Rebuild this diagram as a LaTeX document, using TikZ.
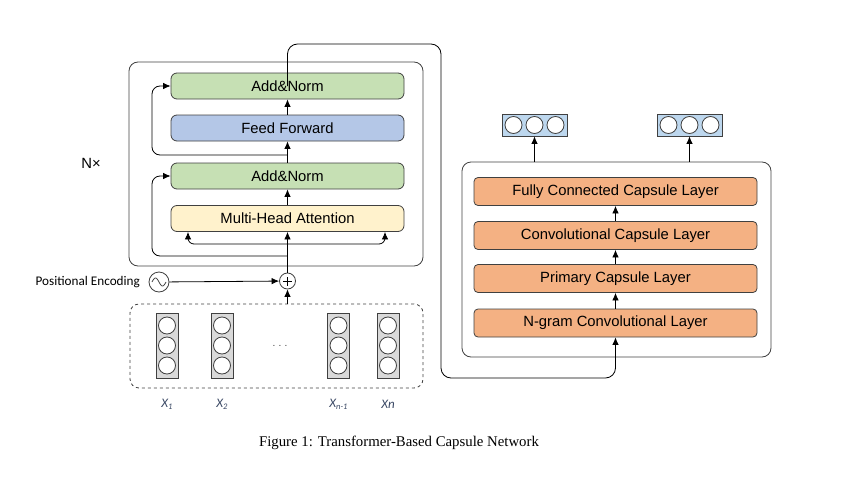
\documentclass[tikz,border=0pt]{standalone}
\usepackage{fontspec}
\setsansfont{Liberation Sans}
\newfontfamily\calfont{Carlito}
\newfontfamily\capfont{Liberation Serif}
\usetikzlibrary{positioning,arrows.meta}

\definecolor{normgreen}{RGB}{198,224,180}
\definecolor{ffblue}{RGB}{180,199,231}
\definecolor{mhayellow}{RGB}{255,242,204}
\definecolor{capsorange}{RGB}{244,177,131}
\definecolor{outblue}{RGB}{189,215,238}
\definecolor{vecgray}{RGB}{217,217,217}
\definecolor{edgegray}{RGB}{64,64,64}
\definecolor{labelblue}{RGB}{58,72,100}

\begin{document}
\begin{tikzpicture}[x=1pt, y=-1pt, line width=0.8pt, >={Latex[length=7.5pt,width=6.5pt]},
    font=\sffamily\fontsize{14.8}{17}\selectfont,
    layer/.style = {draw=edgegray, rounded corners=6pt, minimum width=233pt, minimum height=26pt, inner sep=0pt},
    caps/.style = {draw=edgegray, fill=capsorange, rounded corners=4pt, minimum width=283pt, minimum height=28pt, inner sep=0pt},
    frame/.style = {draw=edgegray, rounded corners=9pt, inner sep=0pt},
    unit/.style = {draw=edgegray, fill=white, circle, minimum size=17pt, inner sep=0pt},
    invec/.style = {draw=edgegray, fill=vecgray, minimum width=22pt, minimum height=65pt, inner sep=0pt},
    outvec/.style = {draw=edgegray, fill=outblue, minimum width=65pt, minimum height=22pt, inner sep=0pt},
    xlabel/.style = {font=\calfont\itshape\fontsize{13}{15}\selectfont, text=labelblue}]
    \useasboundingbox (0,0) rectangle (852,479);

    % transformer encoder
    \node[frame, minimum width=294pt, minimum height=204pt] (enc) at (276,164) {};
    \node at (91,163) {N\texttimes};
    \node[layer, fill=normgreen] (an1) at (287.5,86) {Add\&Norm};
    \node[layer, fill=ffblue] (ff) at (287.5,128) {Feed Forward};
    \node[layer, fill=normgreen] (an2) at (287.5,176) {Add\&Norm};
    \node[layer, fill=mhayellow] (mha) at (287.5,218.5) {Multi-Head Attention};

    % input embedding
    \node[frame, dashed, minimum width=293pt, minimum height=84pt] (inbox) at (276.5,346) {};
    \foreach \name/\xpos/\lbl in {v1/167/{X\raisebox{-2pt}{\fontsize{8.5}{9}\selectfont 1}},
                                  v2/222/{X\raisebox{-2pt}{\fontsize{8.5}{9}\selectfont 2}},
                                  vm/338.5/{X\raisebox{-2pt}{\fontsize{8.5}{9}\selectfont n-1}},
                                  vn/388/{Xn}} {
        \node[invec] (\name) at (\xpos,345.5) {};
        \node[unit] at (\xpos,325.5) {};
        \node[unit] at (\xpos,345.5) {};
        \node[unit] at (\xpos,365.5) {};
        \node[xlabel] at (\xpos,404) {\lbl};
    }
    \node[text=edgegray] (dots) at (280,346) {\fontsize{10}{10}\selectfont .\,\,.\,\,.};

    % positional encoding
    \node[circle, draw=edgegray, minimum size=20pt, inner sep=0pt] (pe) at (159,282) {};
    \draw[edgegray] plot[domain=-7:7, smooth, samples=25] ({159+\x}, {282+4*sin(\x*180/7)});
    \node[left=5pt of pe, font=\calfont\fontsize{13.2}{15}\selectfont] (pelabel) {Positional Encoding};
    \node[circle, draw=edgegray, fill=white, minimum size=16pt, inner sep=0pt] (plus) at (287.5,281) {};
    \draw ([xshift=-4.5pt]plus.center) -- ([xshift=4.5pt]plus.center)
          ([yshift=-4.5pt]plus.center) -- ([yshift=4.5pt]plus.center);

    \draw[->] (pe) -- (plus);
    \draw[->] (inbox.north -| plus) -- (plus);
    \draw[->] (plus) -- (mha);
    \draw[->] (mha) -- (an2);
    \draw[->] (an2) -- (ff);
    \draw[->] (ff) -- (an1);

    % residual paths
    \coordinate (r1) at (287.5,155);
    \coordinate (r2) at (287.5,256);
    \coordinate (r3) at (287.5,244);
    \draw[->, rounded corners=8pt] (r1) -- ++(-135.5,0) |- (an1.west);
    \draw[->, rounded corners=8pt] (r2) -- ++(-135.5,0) |- (an2.west);
    \draw[->, rounded corners=6pt] (r3) -| ([xshift=-99.5pt]mha.south);
    \draw[->, rounded corners=6pt] (r3) -| ([xshift=97.5pt]mha.south);

    % capsule network
    \node[frame, minimum width=309pt, minimum height=195pt] (capbox) at (616.5,259.5) {};
    \node[caps] (fc) at (615.5,191.5) {Fully Connected Capsule Layer};
    \node[caps] (cc) at (615.5,235.5) {Convolutional Capsule Layer};
    \node[caps] (pc) at (615.5,278.5) {Primary Capsule Layer};
    \node[caps] (ng) at (615.5,323) {N-gram Convolutional Layer};
    \draw[->] (ng) -- (pc);
    \draw[->] (pc) -- (cc);
    \draw[->] (cc) -- (fc);

    \foreach \name/\xpos in {o1/534.5, o2/689.5} {
        \node[outvec] (\name) at (\xpos,125) {};
        \node[unit] at (\xpos-21,125) {};
        \node[unit] at (\xpos,125) {};
        \node[unit] at (\xpos+21,125) {};
        \draw[->] (capbox.north -| \name) -- (\name);
    }

    % encoder output to capsules
    \coordinate (tr) at (441,44);
    \coordinate (br) at (441,378);
    \draw[->, rounded corners=10pt] (an1.center) |- (tr) -- (br) -| (ng.south);

    \node[font=\capfont\fontsize{14.8}{17}\selectfont] (caption) at (399,443) {Figure 1: Transformer-Based Capsule Network};
\end{tikzpicture}
\end{document}
